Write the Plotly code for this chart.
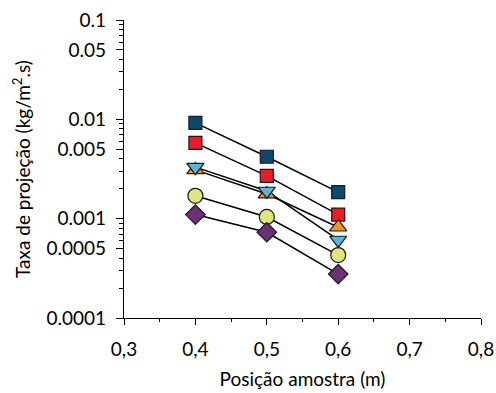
import plotly.graph_objects as go

x_pos = [0.4, 0.5, 0.6]
s_darkblue = [0.0092, 0.0042, 0.00185]
s_red = [0.0058, 0.0027, 0.0011]
s_orange = [0.0031, 0.00177, 0.00082]
s_cyan = [0.0033, 0.0019, 0.00061]
s_yellow = [0.0017, 0.00104, 0.00043]
s_purple = [0.0011, 0.00073, 0.000277]

series = [
    ("darkblue", s_darkblue, "square", "#0b4a6e", 13),
    ("red", s_red, "square", "#ed1c24", 13),
    ("orange", s_orange, "triangle-up", "#f7941e", 15),
    ("cyan", s_cyan, "triangle-down", "#5ab4e0", 15),
    ("yellow", s_yellow, "circle", "#dfe67e", 15),
    ("purple", s_purple, "diamond", "#6d2f75", 15),
]

y_tickvals = [0.0001, 0.0005, 0.001, 0.005, 0.01, 0.05, 0.1]
y_ticktext = ["0.0001", "0.0005", "0.001", "0.005", "0.01", "0.05", "0.1"]
y_minor = [m * 10 ** e for e in (-4, -3, -2) for m in (2, 3, 4, 6, 7, 8, 9)]
x_tickvals = [0.3, 0.4, 0.5, 0.6, 0.7, 0.8]
x_ticktext = ["0,3", "0,4", "0,5", "0,6", "0,7", "0,8"]

FONT = "Lato"
FS = 19
fig = go.Figure()
for name, vals, sym, col, sz in series:
    fig.add_trace(go.Scatter(x=x_pos, y=vals, mode="lines",
                             line=dict(color="black", width=1.5),
                             showlegend=False, hoverinfo="skip"))
for name, vals, sym, col, sz in series:
    fig.add_trace(go.Scatter(x=x_pos, y=vals, mode="markers", name=name,
                             marker=dict(symbol=sym, color=col, size=sz,
                                         line=dict(color="#1a1a1a", width=1.2)),
                             showlegend=False))

fig.update_layout(
    width=496, height=393,
    margin=dict(l=124, r=15, t=20, b=75),
    plot_bgcolor="white", paper_bgcolor="white",
    font=dict(family=FONT, size=FS, color="black"),
    xaxis=dict(range=[0.3, 0.8], showline=True, linecolor="black", linewidth=1.2,
               showgrid=False, zeroline=False, ticks="outside", ticklen=6,
               tickwidth=1.2, tickcolor="black", ticklabelstandoff=8,
               tickvals=x_tickvals, ticktext=x_ticktext, automargin=False,
               tickfont=dict(size=FS),
               minor=dict(tickvals=[0.35, 0.45, 0.55, 0.65, 0.75], ticks="outside",
                          ticklen=3, tickcolor="black", tickwidth=1.2),
               title=dict(text="Posição amostra (m)", font=dict(size=FS), standoff=13)),
    yaxis=dict(type="log", range=[-4, -1], showline=True, linecolor="black",
               linewidth=1.2, showgrid=False, zeroline=False, ticks="outside",
               ticklen=7, tickwidth=1.2, tickcolor="black", ticklabelstandoff=6,
               tickvals=y_tickvals, ticktext=y_ticktext, automargin=False,
               tickfont=dict(size=FS),
               minor=dict(tickvals=y_minor, ticks="outside", ticklen=4,
                          tickcolor="black", tickwidth=1.2),
               title=dict(text="Taxa de projeção (kg/m<sup>2</sup>.s)",
                          font=dict(size=FS), standoff=10)),
)
fig.write_html("out.html")
